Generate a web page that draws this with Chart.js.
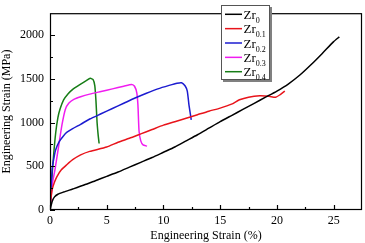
<!DOCTYPE html>
<html>
<head>
<meta charset="utf-8">
<script src="https://cdn.jsdelivr.net/npm/chart.js@4.4.0/dist/chart.umd.min.js"></script>
<style>
  html, body { margin: 0; padding: 0; background: #fff; }
  #wrap { width: 365px; height: 243px; }
</style>
</head>
<body>
<div id="wrap"><canvas id="myChart"></canvas></div>
<script>
// values (strain %, stress MPa)
const zr0Strain   = [0, 0.2, 0.4, 0.7, 1.2, 2, 3, 4, 5, 6, 7, 8, 9, 10, 11, 12, 13, 14, 15, 16, 17, 18, 19, 20, 21, 22, 23, 24, 25, 25.5];
const zr0Stress   = [0, 100, 150, 180, 205, 240, 285, 335, 385, 435, 490, 545, 600, 660, 720, 790, 860, 935, 1010, 1080, 1150, 1220, 1290, 1360, 1440, 1540, 1660, 1790, 1925, 1980];

const zr01Strain  = [0, 0.1, 0.2, 0.4, 0.6, 1, 1.5, 2, 2.7, 3.5, 5, 6, 7, 8, 9, 10, 11, 12, 13, 14, 15, 16, 16.7, 17.5, 18.5, 19.3, 19.9, 20.3, 20.7];
const zr01Stress  = [0, 150, 240, 320, 380, 460, 520, 575, 630, 670, 720, 775, 820, 870, 920, 970, 1010, 1050, 1090, 1130, 1165, 1210, 1260, 1290, 1305, 1300, 1290, 1320, 1360];

const zr02Strain  = [0, 0.1, 0.2, 0.35, 0.5, 0.8, 1.2, 1.5, 2, 2.7, 3.5, 4.5, 5.5, 6.5, 7.5, 8.5, 9.5, 10.5, 11.2, 11.6, 11.9, 12.1, 12.25, 12.45];
const zr02Stress  = [0, 250, 480, 600, 690, 780, 850, 890, 930, 980, 1040, 1100, 1160, 1220, 1280, 1335, 1385, 1425, 1450, 1455, 1420, 1360, 1200, 1030];

const zr03Strain  = [0, 0.2, 0.45, 0.75, 1.05, 1.35, 1.65, 2.1, 2.7, 3.5, 4.5, 5.5, 6.5, 7.2, 7.45, 7.65, 7.75, 7.85, 8.0, 8.2, 8.55];
const zr03Stress  = [0, 290, 470, 720, 970, 1150, 1220, 1265, 1295, 1325, 1355, 1385, 1415, 1435, 1415, 1340, 1200, 900, 790, 745, 730];

const zr04Strain  = [0, 0.1, 0.3, 0.5, 0.7, 0.9, 1.2, 1.6, 2, 2.7, 3.2, 3.55, 3.8, 3.95, 4.05, 4.15, 4.25, 4.33];
const zr04Stress  = [0, 250, 600, 880, 1060, 1160, 1260, 1330, 1380, 1440, 1480, 1505, 1490, 1420, 1250, 1000, 850, 760];

const seriesBase  = ['Zr', 'Zr', 'Zr', 'Zr', 'Zr'];
const seriesSub   = ['0', '0.1', '0.2', '0.3', '0.4'];
const seriesColor = ['#000000', '#e8141b', '#1c1cd0', '#f01cf0', '#167d16'];

const xMajorTicks = [0, 5, 10, 15, 20, 25];
const xMinorTicks = [2.5, 7.5, 12.5, 17.5, 22.5];
const yMajorTicks = [0, 500, 1000, 1500, 2000];
const yMinorTicks = [250, 750, 1250, 1750];

const serif = '"Liberation Serif", "Times New Roman", serif';

function pts(xs, ys) {
  return xs.map((x, i) => ({ x: x, y: ys[i] }));
}

const allX = [zr0Strain, zr01Strain, zr02Strain, zr03Strain, zr04Strain];
const allY = [zr0Stress, zr01Stress, zr02Stress, zr03Stress, zr04Stress];

const datasets = allX.map((xs, i) => ({
  label: seriesBase[i] + seriesSub[i],
  data: pts(xs, allY[i]),
  borderColor: seriesColor[i],
  borderWidth: 1.5,
  pointRadius: 0,
  fill: false,
  tension: 0.2
}));

// frame + inward ticks
const frameTicks = {
  id: 'frameTicks',
  afterDatasetsDraw(chart) {
    const ctx = chart.ctx, a = chart.chartArea;
    const xs = chart.scales.x, ys = chart.scales.y;
    ctx.save();
    ctx.strokeStyle = '#000';
    ctx.lineWidth = 1.2;
    ctx.strokeRect(a.left + 0.5, a.top + 0.5, a.right - a.left - 1, a.bottom - a.top - 1);
    ctx.beginPath();
    xMajorTicks.forEach(v => {
      const p = Math.round(xs.getPixelForValue(v)) + 0.5;
      ctx.moveTo(p, a.bottom); ctx.lineTo(p, a.bottom - 5);
    });
    xMinorTicks.forEach(v => {
      const p = Math.round(xs.getPixelForValue(v)) + 0.5;
      ctx.moveTo(p, a.bottom); ctx.lineTo(p, a.bottom - 3);
    });
    yMajorTicks.forEach(v => {
      const p = Math.round(ys.getPixelForValue(v)) + 0.5;
      ctx.moveTo(a.left, p); ctx.lineTo(a.left + 5, p);
    });
    yMinorTicks.forEach(v => {
      const p = Math.round(ys.getPixelForValue(v)) + 0.5;
      ctx.moveTo(a.left, p); ctx.lineTo(a.left + 3, p);
    });
    ctx.stroke();
    ctx.restore();
  }
};

// legend box with subscripts
const subLegend = {
  id: 'subLegend',
  afterDraw(chart) {
    const ctx = chart.ctx;
    const bx = 221, by = 5, bw = 49, bh = 75;
    ctx.save();
    ctx.fillStyle = '#808080';
    ctx.fillRect(bx + 2, by + 2, bw, bh);
    ctx.fillStyle = '#fff';
    ctx.fillRect(bx, by, bw, bh);
    ctx.strokeStyle = '#555';
    ctx.lineWidth = 1;
    ctx.strokeRect(bx + 0.5, by + 0.5, bw - 1, bh - 1);
    chart.data.datasets.forEach((ds, i) => {
      const y = 14.3 + i * 14.35;
      ctx.strokeStyle = ds.borderColor;
      ctx.lineWidth = 1.5;
      ctx.beginPath();
      ctx.moveTo(225, y); ctx.lineTo(242, y);
      ctx.stroke();
      ctx.fillStyle = '#000';
      ctx.textBaseline = 'alphabetic';
      ctx.font = '13px ' + serif;
      ctx.fillText(seriesBase[i], 243.5, y + 4.5);
      const w = ctx.measureText(seriesBase[i]).width;
      ctx.font = '8px ' + serif;
      ctx.fillText(seriesSub[i], 243.5 + w, y + 8.5);
    });
    ctx.restore();
  }
};

const ctx = document.getElementById('myChart').getContext('2d');
new Chart(ctx, {
  type: 'line',
  data: { datasets: datasets },
  options: {
    responsive: true,
    maintainAspectRatio: false,
    animation: false,
    layout: { padding: { left: 0, right: 3, top: 3, bottom: 0 } },
    plugins: {
      legend: { display: false },
      tooltip: { enabled: false }
    },
    scales: {
      x: {
        type: 'linear',
        min: 0,
        max: 27.5,
        afterFit(scale) { scale.height = 33; },
        afterBuildTicks(scale) { scale.ticks = xMajorTicks.map(v => ({ value: v })); },
        grid: { display: false, drawTicks: false },
        border: { display: false },
        ticks: {
          maxRotation: 0,
          autoSkip: false,
          padding: 4,
          color: '#000',
          font: { family: serif, size: 12 },
          callback: v => String(v)
        },
        title: {
          display: true,
          text: 'Engineering Strain (%)',
          color: '#000',
          padding: { top: 0, bottom: 0 },
          font: { family: serif, size: 12 }
        }
      },
      y: {
        type: 'linear',
        min: 0,
        max: 2250,
        afterFit(scale) { scale.width = 50; },
        afterBuildTicks(scale) { scale.ticks = yMajorTicks.map(v => ({ value: v })); },
        grid: { display: false, drawTicks: false },
        border: { display: false },
        ticks: {
          autoSkip: false,
          padding: 6,
          color: '#000',
          font: { family: serif, size: 12 },
          callback: v => String(v)
        },
        title: {
          display: true,
          text: 'Engineering Strain (MPa)',
          color: '#000',
          padding: { top: 0, bottom: 0 },
          font: { family: serif, size: 12 }
        }
      }
    }
  },
  plugins: [frameTicks, subLegend]
});
</script>
</body>
</html>
